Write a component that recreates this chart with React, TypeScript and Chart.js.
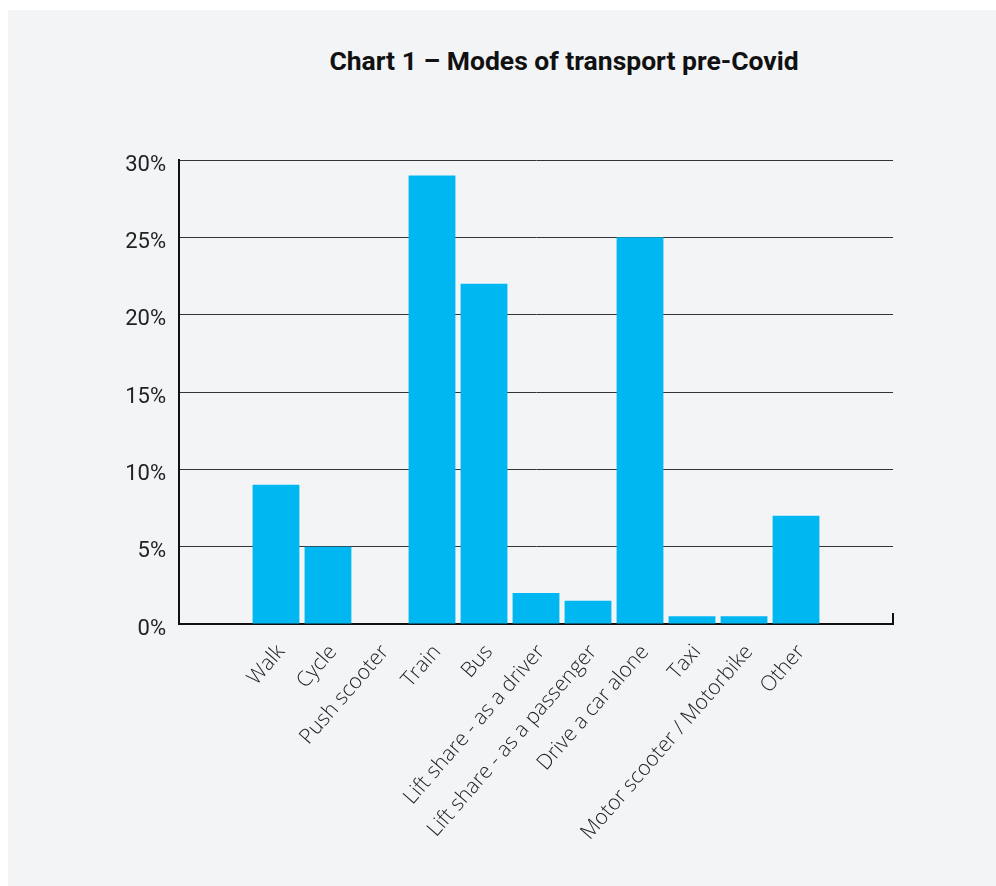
import React, { useEffect, useRef } from "react";
import { Chart, registerables } from "chart.js";

Chart.register(...registerables);

const categories: string[] = [
  "Walk",
  "Cycle",
  "Push scooter",
  "Train",
  "Bus",
  "Lift share - as a driver",
  "Lift share - as a passenger",
  "Drive a car alone",
  "Taxi",
  "Motor scooter / Motorbike",
  "Other",
];
const shares: number[] = [9, 5, 0, 29, 22, 2, 1.5, 25, 0.5, 0.5, 7];
const yTickValues: number[] = [0, 5, 10, 15, 20, 25, 30];
const titleText = "Chart 1 – Modes of transport pre-Covid";

const BAR_COLOR = "#00b7f1";
const X_EDGE = 1.865;

const endTickPlugin = {
  id: "endTick",
  afterDatasetsDraw(chart: any) {
    const { ctx, chartArea } = chart;
    ctx.save();
    ctx.strokeStyle = "#111";
    ctx.lineWidth = 2;
    ctx.beginPath();
    ctx.moveTo(chartArea.right, chartArea.bottom + 1);
    ctx.lineTo(chartArea.right, chartArea.bottom - 11);
    ctx.stroke();
    ctx.restore();
  },
};

export default function App() {
  const ref = useRef<HTMLCanvasElement | null>(null);

  useEffect(() => {
    document.body.style.overflow = "hidden";
    const canvas = ref.current;
    if (!canvas) return;
    const chart = new Chart(canvas, {
      type: "bar",
      data: {
        datasets: [
          {
            data: shares.map((v, i) => ({ x: i, y: v })),
            backgroundColor: BAR_COLOR,
            borderWidth: 0,
            barPercentage: 0.9,
            categoryPercentage: 1,
          },
        ],
      },
      options: {
        animation: false,
        responsive: false,
        events: [],
        layout: { padding: { top: 150, right: 103, left: 0, bottom: 0 } },
        plugins: {
          legend: { display: false },
          title: { display: false },
          tooltip: { enabled: false },
        },
        scales: {
          x: {
            type: "linear",
            offset: false,
            min: -X_EDGE,
            max: categories.length - 1 + X_EDGE,
            afterBuildTicks: (scale: any) => {
              scale.ticks = categories.map((_, i) => ({ value: i }));
            },
            afterFit: (scale: any) => {
              scale.height = 262;
              scale.paddingLeft = 0;
              scale.paddingRight = 0;
            },
            grid: { drawOnChartArea: false, drawTicks: false },
            border: { display: true, color: "#111", width: 2 },
            ticks: {
              autoSkip: false,
              minRotation: 49,
              maxRotation: 49,
              padding: 16,
              labelOffset: 5,
              color: "#222",
              font: { family: "'Open Sans'", size: 21, weight: "300" },
              callback: (v: any) => categories[v] ?? "",
            },
          },
          y: {
            min: 0,
            max: 30,
            afterBuildTicks: (scale: any) => {
              scale.ticks = yTickValues.map((v) => ({ value: v }));
            },
            afterFit: (scale: any) => {
              scale.width = 171;
            },
            grid: { color: "#333", lineWidth: 1, drawTicks: false },
            border: { display: true, color: "#111", width: 2 },
            ticks: {
              padding: 13,
              labelOffset: 5,
              color: "#222",
              font: { family: "Roboto", size: 22, weight: "400" },
              callback: (v: any) => `${v}%`,
            },
          },
        },
      },
      plugins: [endTickPlugin],
    } as any);
    return () => chart.destroy();
  }, []);

  return (
    <div
      style={{
        position: "absolute",
        left: 8,
        top: 10,
        width: 988,
        height: 876,
        background: "#f3f4f6",
      }}
    >
      <div
        style={{
          position: "absolute",
          left: 556,
          top: 38,
          transform: "translateX(-50%)",
          whiteSpace: "nowrap",
          fontFamily: "Roboto, sans-serif",
          fontWeight: 700,
          fontSize: 26.5,
          lineHeight: "26px",
          color: "#111",
        }}
      >
        {titleText}
      </div>
      <canvas
        ref={ref}
        width={988}
        height={876}
        style={{ position: "absolute", left: 0, top: 0, width: 988, height: 876 }}
      />
    </div>
  );
}
